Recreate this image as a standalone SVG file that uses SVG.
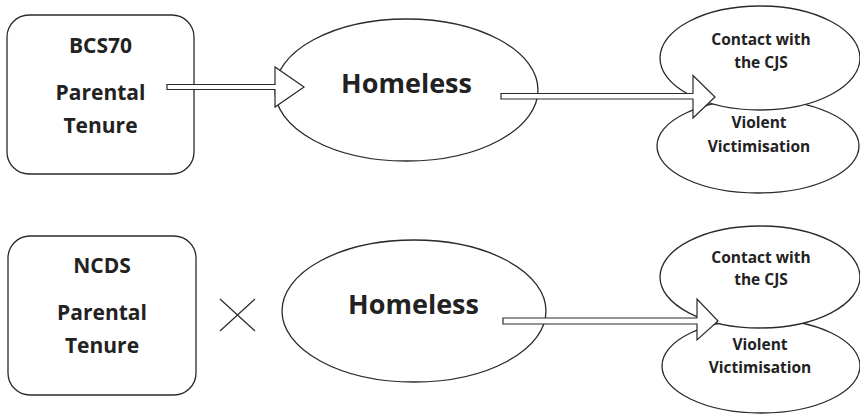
<svg xmlns="http://www.w3.org/2000/svg" width="860" height="414" viewBox="0 0 860 414">
<style>
.shape{fill:#fff;stroke:#2a2a2a;stroke-width:1.3}
.arrow{fill:#fff;stroke:#2a2a2a;stroke-width:1.2;stroke-linejoin:miter}
.cross{stroke:#2a2a2a;stroke-width:1.2;fill:none}
text{font-family:"Open Sans","Liberation Sans",sans-serif;font-weight:bold;fill:#222;text-anchor:middle}
.t20{font-size:21px}
.t27{font-size:27px}
.t16{font-size:15.5px}
</style>
<rect width="860" height="414" fill="#fff"/>
<g id="bcs70">
<rect class="shape" x="7" y="15" width="187" height="159" rx="22"/>
<text class="t20" x="100.5" y="53">BCS70</text>
<text class="t20" x="100.5" y="100">Parental</text>
<text class="t20" x="100.5" y="133">Tenure</text>
</g>
<g id="homeless-top">
<ellipse class="shape" cx="406.5" cy="90" rx="131.5" ry="71"/>
<text class="t27" x="406.5" y="93">Homeless</text>
</g>
<g id="violent-top">
<ellipse class="shape" cx="758" cy="146" rx="101" ry="47"/>
<text class="t16" x="759" y="128">Violent</text>
<text class="t16" x="759" y="152">Victimisation</text>
</g>
<g id="contact-top">
<ellipse class="shape" cx="760" cy="58" rx="100" ry="52"/>
<text class="t16" x="761" y="45">Contact with</text>
<text class="t16" x="761" y="68">the CJS</text>
</g>
<g id="ncds">
<rect class="shape" x="8" y="236" width="188" height="159" rx="22"/>
<text class="t20" x="102" y="273">NCDS</text>
<text class="t20" x="102" y="320">Parental</text>
<text class="t20" x="102" y="353">Tenure</text>
</g>
<g id="homeless-bottom">
<ellipse class="shape" cx="414" cy="311" rx="132" ry="71"/>
<text class="t27" x="413.5" y="314">Homeless</text>
</g>
<g id="violent-bottom">
<ellipse class="shape" cx="761" cy="366" rx="99" ry="47"/>
<text class="t16" x="760" y="350">Violent</text>
<text class="t16" x="760" y="373">Victimisation</text>
</g>
<g id="contact-bottom">
<ellipse class="shape" cx="760" cy="277" rx="100" ry="51"/>
<text class="t16" x="761" y="263">Contact with</text>
<text class="t16" x="761" y="285">the CJS</text>
</g>
<g id="connectors">
<polygon class="arrow" points="167,84.5 275,84.5 275,67 304,87 275,107 275,89.5 167,89.5"/>
<polygon class="arrow" points="501,93.5 693,93.5 693,75.5 715,97 693,118 693,99 501,99"/>
<polygon class="arrow" points="503,318 697,318 697,299 718,321 697,340 697,324 503,324"/>
<path class="cross" d="M220,299 L255,331 M255,299 L220,331"/>
</g>
</svg>
